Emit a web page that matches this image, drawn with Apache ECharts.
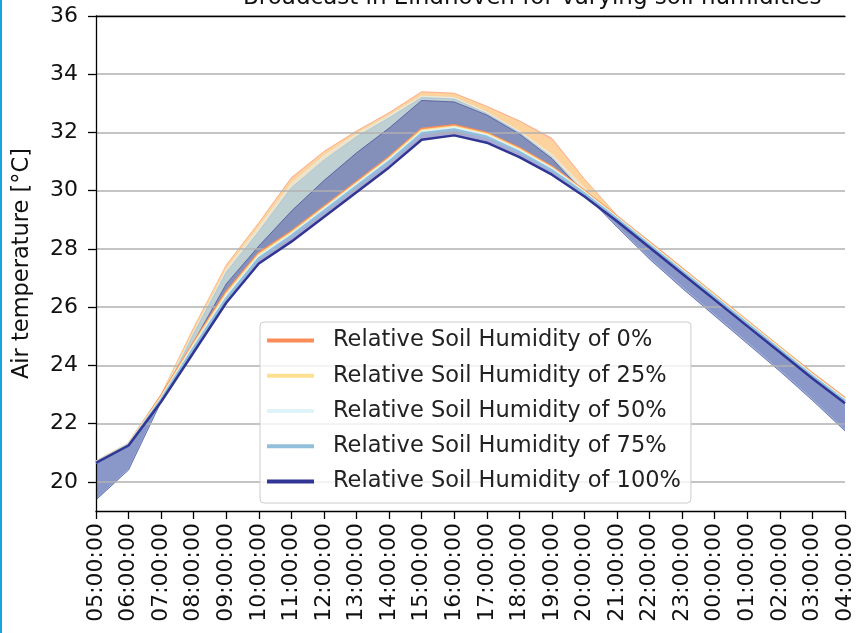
<!DOCTYPE html>
<html>
<head>
<meta charset="utf-8">
<script src="https://cdn.jsdelivr.net/npm/echarts@6/dist/echarts.min.js"></script>
<style>
html, body { margin: 0; padding: 0; background: #fff; }
#main { width: 856px; height: 633px; }
#edge { position: absolute; left: 0; top: 0; width: 2px; height: 633px; background: #17a3df; }
</style>
</head>
<body>
<div id="main"></div>
<div id="edge"></div>
<script>
var hours = ['05:00:00','06:00:00','07:00:00','08:00:00','09:00:00','10:00:00','11:00:00','12:00:00',
             '13:00:00','14:00:00','15:00:00','16:00:00','17:00:00','18:00:00','19:00:00','20:00:00',
             '21:00:00','22:00:00','23:00:00','00:00:00','01:00:00','02:00:00','03:00:00','04:00:00'];
var yTicks = [20, 22, 24, 26, 28, 30, 32, 34, 36];

var names = ['Relative Soil Humidity of 0%', 'Relative Soil Humidity of 25%', 'Relative Soil Humidity of 50%',
             'Relative Soil Humidity of 75%', 'Relative Soil Humidity of 100%'];

// air temperature per humidity (lines)
var hum0   = [20.69,21.30,22.95,24.78,26.52,27.86,28.60,29.45,30.30,31.15,32.12,32.25,31.98,31.46,30.82,29.99,29.11,28.22,27.32,26.42,25.52,24.62,23.72,22.87];
var hum25  = [20.68,21.29,22.90,24.72,26.45,27.80,28.55,29.40,30.25,31.10,32.07,32.20,31.94,31.42,30.78,29.96,29.08,28.19,27.29,26.39,25.49,24.59,23.69,22.84];
var hum50  = [20.67,21.28,22.86,24.67,26.38,27.74,28.50,29.36,30.21,31.06,32.02,32.16,31.90,31.38,30.75,29.93,29.06,28.16,27.26,26.36,25.46,24.56,23.66,22.81];
var hum75  = [20.66,21.27,22.82,24.60,26.30,27.68,28.45,29.30,30.15,31.00,31.97,32.10,31.85,31.33,30.70,29.90,29.03,28.13,27.23,26.33,25.43,24.53,23.63,22.78];
var hum100 = [20.65,21.25,22.75,24.45,26.15,27.50,28.25,29.10,29.95,30.80,31.75,31.90,31.65,31.15,30.55,29.80,28.95,28.05,27.15,26.25,25.35,24.45,23.55,22.70];

// other edge of the shaded range per humidity
var edge0   = [20.70,21.30,23.00,25.30,27.45,28.90,30.45,31.35,32.05,32.68,33.40,33.35,32.90,32.40,31.80,30.40,29.15,28.22,27.32,26.42,25.52,24.62,23.72,22.87];
var edge25  = [20.70,21.30,22.98,25.25,27.40,28.85,30.38,31.30,32.00,32.63,33.35,33.30,32.85,32.35,31.70,30.35,29.12,28.19,27.29,26.39,25.49,24.59,23.69,22.84];
var edge50  = [20.69,21.30,22.95,25.15,27.30,28.75,30.25,31.20,31.95,32.58,33.25,33.20,32.70,32.05,31.25,30.10,29.07,28.16,27.26,26.36,25.46,24.56,23.66,22.81];
var edge75  = [19.40,20.45,22.80,25.10,27.20,28.60,30.10,31.05,31.85,32.50,33.20,33.15,32.65,32.00,31.15,29.95,28.80,27.70,26.70,25.75,24.80,23.85,22.85,21.80];
var edge100 = [19.38,20.41,22.75,24.80,26.80,28.10,29.30,30.35,31.30,32.15,33.10,33.05,32.60,31.95,31.10,29.90,28.75,27.65,26.65,25.70,24.75,23.80,22.80,21.75];

var lines = [hum0, hum25, hum50, hum75, hum100];
var edges = [edge0, edge25, edge50, edge75, edge100];
var colors = ['#fc8d59', '#fee090', '#e0f3f8', '#91bfdb', '#313695'];
var fillAlpha = [0.5, 0.5, 0.5, 0.5, 0.42];

var font = 'DejaVu Sans';
var series = [];
for (var i = 0; i < lines.length; i++) {
    var base = lines[i];
    series.push({
        name: 'base' + i, type: 'line', data: base, stack: 'band' + i, stackStrategy: 'all',
        symbol: 'none', silent: true, lineStyle: { opacity: 0 }, z: 1
    });
    series.push({
        name: 'band' + i, type: 'line', stack: 'band' + i, stackStrategy: 'all',
        data: edges[i].map(function (v, k) { return +(v - base[k]).toFixed(3); }),
        symbol: 'none', silent: true,
        lineStyle: { color: colors[i], width: 1, opacity: 0.6 },
        areaStyle: { color: colors[i], opacity: fillAlpha[i] }, z: 1
    });
}
for (var j = 0; j < lines.length; j++) {
    series.push({
        name: names[j], type: 'line', data: lines[j], symbol: 'none',
        itemStyle: { color: colors[j] },
        lineStyle: { color: colors[j], width: 2.5 }, z: 3
    });
}

echarts.init(document.getElementById('main')).setOption({
    animation: false,
    title: {
        text: 'Broadcast in Eindhoven for varying soil humidities',
        left: 243, top: -13, padding: 0,
        textStyle: { fontFamily: font, fontSize: 23, fontWeight: 'normal', color: '#111' }
    },
    grid: { left: 96, top: 16, right: 2, bottom: 122 },
    legend: {
        data: names, orient: 'vertical', left: 260, top: 322,
        icon: 'rect', itemWidth: 47, itemHeight: 4, itemGap: 12.25,
        padding: [7, 10, 10, 7],
        backgroundColor: 'rgba(255,255,255,0.8)', borderColor: '#cccccc', borderWidth: 1, borderRadius: 4,
        textStyle: { fontFamily: font, fontSize: 22.5, color: '#222', lineHeight: 22, padding: [0, 0, 0, 14] }
    },
    xAxis: [{
        type: 'category', data: hours, boundaryGap: false, z: 3,
        axisLine: { lineStyle: { color: '#000', width: 1.3 } },
        axisTick: { alignWithLabel: true, interval: 0, length: 8, lineStyle: { color: '#000', width: 1.3 } },
        axisLabel: { interval: 0, rotate: 90, margin: 12, fontFamily: font, fontSize: 22, color: '#111' },
        splitLine: { show: false }
    }, {
        type: 'category', data: hours, boundaryGap: false, position: 'top', z: 3,
        axisLine: { lineStyle: { color: '#000', width: 1.3 } },
        axisTick: { show: false }, axisLabel: { show: false }
    }],
    yAxis: {
        type: 'value', min: 19, max: 36, z: 2,
        name: 'Air temperature [°C]', nameLocation: 'middle', nameRotate: 90, nameGap: 62,
        nameTextStyle: { fontFamily: font, fontSize: 22.5, color: '#111' },
        axisLine: { show: true, lineStyle: { color: '#000', width: 1.3 } },
        axisTick: { show: true, length: 8, customValues: yTicks, lineStyle: { color: '#000', width: 1.3 } },
        axisLabel: { customValues: yTicks, margin: 18, fontFamily: font, fontSize: 22, color: '#111' },
        splitLine: { show: true, lineStyle: { color: '#b0b0b0', width: 1.5 } }
    },
    series: series
});
</script>
</body>
</html>
